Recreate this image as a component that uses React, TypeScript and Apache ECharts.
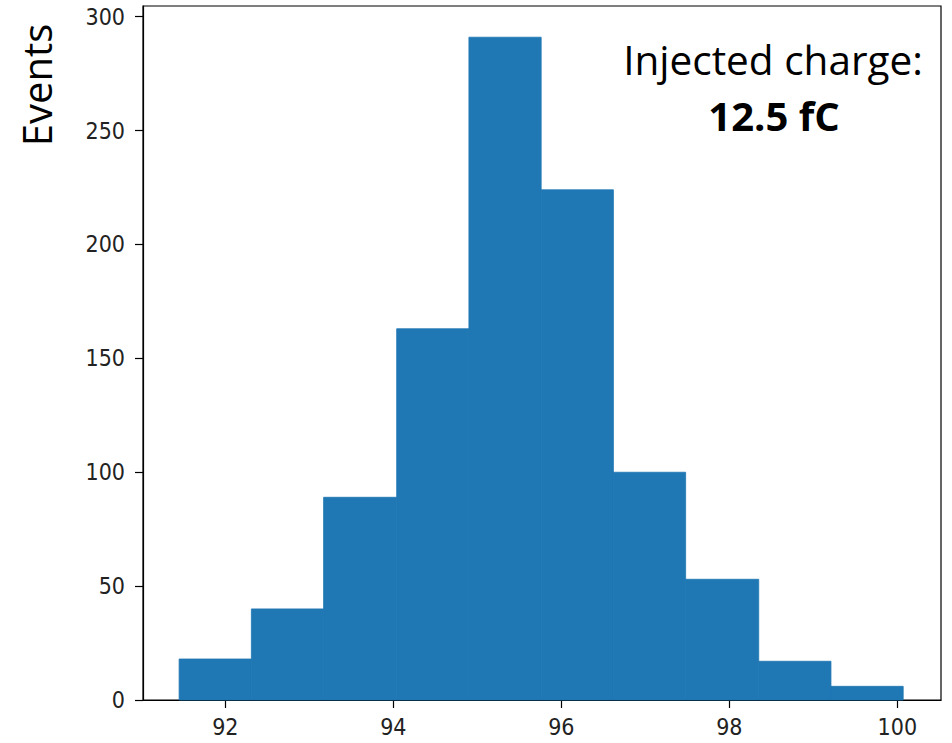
import React, { useEffect, useRef } from "react";
import * as echarts from "echarts";

const binEdges = [91.45, 92.31, 93.17, 94.04, 94.9, 95.76, 96.62, 97.48, 98.35, 99.21, 100.07];
const counts = [18, 40, 89, 163, 291, 224, 100, 53, 17, 6];
const xTicks = [92, 94, 96, 98, 100];
const yTicks = [0, 50, 100, 150, 200, 250, 300];
const yLabel = "Events";
const noteLine1 = "Injected charge:";
const noteLine2 = "12.5 fC";

export default function App() {
  const ref = useRef<HTMLDivElement>(null);
  useEffect(() => {
    if (!ref.current) return;
    const chart = echarts.init(ref.current, null, { renderer: "svg" });
    const data = counts.map((c, i) => [binEdges[i], binEdges[i + 1], c]);
    const tickFont = { fontFamily: "DejaVu Sans Condensed, DejaVu Sans", fontSize: 23, color: "#222" };
    chart.setOption({
      animation: false,
      grid: { left: 143, top: 6, right: 11, bottom: 43, show: true, borderColor: "#000", borderWidth: 1.2 },
      xAxis: {
        type: "value",
        min: 91.02,
        max: 100.52,
        splitLine: { show: false },
        axisLine: { show: true, lineStyle: { color: "#000", width: 1.2 } },
        axisTick: { show: true, length: 8, customValues: xTicks, lineStyle: { color: "#000", width: 1.2 } },
        axisLabel: { ...tickFont, margin: 15, customValues: xTicks },
      },
      yAxis: {
        type: "value",
        min: 0,
        max: 304.7,
        splitLine: { show: false },
        axisLine: { show: true, lineStyle: { color: "#000", width: 1.2 } },
        axisTick: { show: true, length: 8, customValues: yTicks, lineStyle: { color: "#000", width: 1.2 } },
        axisLabel: { ...tickFont, margin: 18, customValues: yTicks },
      },
      series: [
        {
          type: "custom",
          data,
          encode: { x: [0, 1], y: 2 },
          renderItem: (params: any, api: any) => {
            const p0 = api.coord([api.value(0), api.value(2)]);
            const p1 = api.coord([api.value(1), 0]);
            return {
              type: "rect",
              shape: { x: p0[0], y: p0[1], width: p1[0] - p0[0], height: p1[1] - p0[1] },
              style: { fill: "#1f77b4", stroke: "#1f77b4", lineWidth: 0.8 },
            };
          },
        },
      ],
      graphic: [
        {
          type: "text",
          x: 36,
          y: 85,
          rotation: Math.PI / 2,
          style: { text: yLabel, fontFamily: "Open Sans", fontSize: 40, fill: "#000", align: "center", verticalAlign: "middle" },
        },
        {
          type: "text",
          x: 773,
          y: 59,
          style: { text: noteLine1, fontFamily: "Open Sans", fontSize: 40.5, fill: "#000", align: "center", verticalAlign: "middle" },
        },
        {
          type: "text",
          x: 774,
          y: 115,
          style: { text: noteLine2, fontFamily: "Open Sans", fontWeight: "bold", fontSize: 40, fill: "#000", align: "center", verticalAlign: "middle" },
        },
      ],
    });
    return () => chart.dispose();
  }, []);
  return <div ref={ref} style={{ width: 952, height: 743, position: "absolute", left: 0, top: 0 }} />;
}
